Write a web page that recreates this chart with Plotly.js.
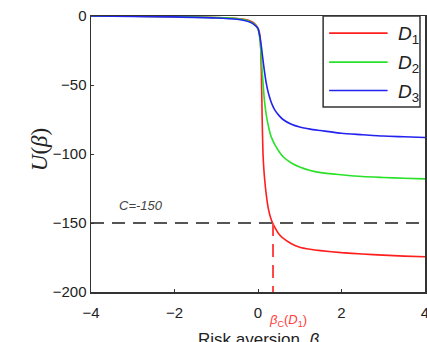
<!DOCTYPE html>
<html>
<head>
<meta charset="utf-8">
<script src="https://cdn.plot.ly/plotly-3.0.1.min.js"></script>
<style>html,body{margin:0;padding:0;background:#fff;}#chart{width:427px;height:342px;}</style>
</head>
<body>
<div id="chart"></div>
<script>
var beta = [-4, -3, -2, -1, -0.5, -0.3, -0.2, -0.1, 0, 0.05, 0.08, 0.1, 0.12, 0.15, 0.2, 0.25, 0.3, 0.35, 0.4, 0.5, 0.6, 0.8, 1.0, 1.25, 1.5, 2, 2.5, 3, 3.5, 4];
var uD1 = [0, -0.2, -0.5, -1.1, -1.8, -2.6, -3.5, -5, -9, -15, -40, -75, -100, -115, -130, -140, -146, -150, -153, -158, -161, -165, -167.5, -169, -170, -171.5, -172.5, -173.3, -174, -174.5];
var uD2 = [0, -0.2, -0.5, -1.2, -2, -3, -4, -5.5, -9.5, -18, -30, -40, -48, -60, -72, -80, -86, -90, -93, -98, -102, -106.5, -109.5, -112, -113.5, -115, -116.3, -117, -117.6, -118];
var uD3 = [0, -0.3, -0.6, -1.4, -2.4, -3.4, -4.4, -6, -9, -16, -22, -27, -32, -39, -49, -56, -61, -65, -68, -72, -75, -78.5, -80.5, -82, -83, -85, -86, -87, -87.5, -88];
var seriesNames = ['<i>D</i><sub>1</sub>', '<i>D</i><sub>2</sub>', '<i>D</i><sub>3</sub>'];
var seriesColors = ['rgb(255,30,30)', 'rgb(40,225,40)', 'rgb(35,35,240)'];
var thresholdC = -150;
var betaC = 0.36;
var xTicks = [-4, -2, 0, 2, 4];
var yTicks = [-200, -150, -100, -50, 0];

var ys = [uD1, uD2, uD3];
var traces = ys.map(function (u, i) {
  return {
    x: beta, y: u, type: 'scatter', mode: 'lines', name: seriesNames[i], showlegend: false,
    line: {color: seriesColors[i], width: 1.6, shape: 'spline', smoothing: 0.6}
  };
});
traces.push({
  x: [xTicks[0], xTicks[xTicks.length - 1]], y: [thresholdC, thresholdC],
  type: 'scatter', mode: 'lines', showlegend: false, hoverinfo: 'skip',
  line: {color: 'rgb(85,85,85)', width: 2, dash: '13px,8px'}
});
traces.push({
  x: [betaC, betaC], y: [thresholdC, yTicks[0]],
  type: 'scatter', mode: 'lines', showlegend: false, hoverinfo: 'skip',
  line: {color: 'rgb(255,70,70)', width: 2, dash: '13px,8px'}
});

// legend box drawn in paper coordinates
var shapes = [{type: 'rect', xref: 'paper', yref: 'paper', x0: 0.695, x1: 0.985, y0: 0.67, y1: 1,
  line: {color: '#333', width: 1.5}, fillcolor: '#fff', layer: 'above'}];
var legRows = [0.938, 0.833, 0.73];
var annotations = [];
seriesNames.forEach(function (n, i) {
  shapes.push({type: 'line', xref: 'paper', yref: 'paper', x0: 0.713, x1: 0.888, y0: legRows[i], y1: legRows[i],
    line: {color: seriesColors[i], width: 1.6}, layer: 'above'});
  annotations.push({xref: 'paper', yref: 'paper', x: 0.912, y: legRows[i], yshift: -2, xanchor: 'left', yanchor: 'middle',
    text: n, showarrow: false, font: {size: 19, color: '#222'}});
});

annotations.push(
  {xref: 'paper', yref: 'paper', x: -0.198, y: 0.515, text: '<i>U</i>(<i>β</i>)', showarrow: false,
   textangle: -90, font: {family: 'Liberation Serif, Times New Roman, serif', size: 23, color: '#222'}},
  {xref: 'paper', yref: 'paper', x: 0.5, y: 0, yshift: -36, yanchor: 'top', text: 'Risk aversion  <i>β</i>', showarrow: false,
   font: {size: 17, color: '#222'}},
  {xref: 'x', yref: 'y', x: -2.8, y: thresholdC, yshift: 8, yanchor: 'bottom', text: '<i>C=-150</i>', showarrow: false,
   font: {size: 13, color: '#444'}},
  {xref: 'x', yref: 'paper', x: 0.72, y: 0, yshift: -18, yanchor: 'top', text: '<i>β</i><sub>C</sub>(<i>D</i><sub>1</sub>)', showarrow: false,
   font: {size: 13, color: 'rgb(255,60,60)'}}
);

var layout = {
  width: 427, height: 342,
  margin: {l: 91, r: 2, t: 16, b: 50},
  paper_bgcolor: '#fff', plot_bgcolor: '#fff',
  font: {family: 'Liberation Sans, Arial, sans-serif', color: '#222', size: 14},
  showlegend: false,
  xaxis: {
    range: [-4, 4], tickvals: xTicks, ticks: 'inside', ticklen: 3, tickcolor: '#333',
    showline: true, mirror: true, linecolor: '#333', linewidth: 1.5, ticklabeloverflow: 'allow',
    ticklabelstandoff: 6,
    showgrid: false, zeroline: false, tickfont: {size: 15, color: '#222'}
  },
  yaxis: {
    range: [-200, 0], tickvals: yTicks, ticks: 'inside', ticklen: 3, tickcolor: '#333',
    showline: true, mirror: true, linecolor: '#333', linewidth: 1.5,
    showgrid: false, zeroline: false, tickfont: {size: 15, color: '#222'}
  },
  shapes: shapes,
  annotations: annotations
};
Plotly.newPlot('chart', traces, layout, {displayModeBar: false, staticPlot: true});
</script>
</body>
</html>
